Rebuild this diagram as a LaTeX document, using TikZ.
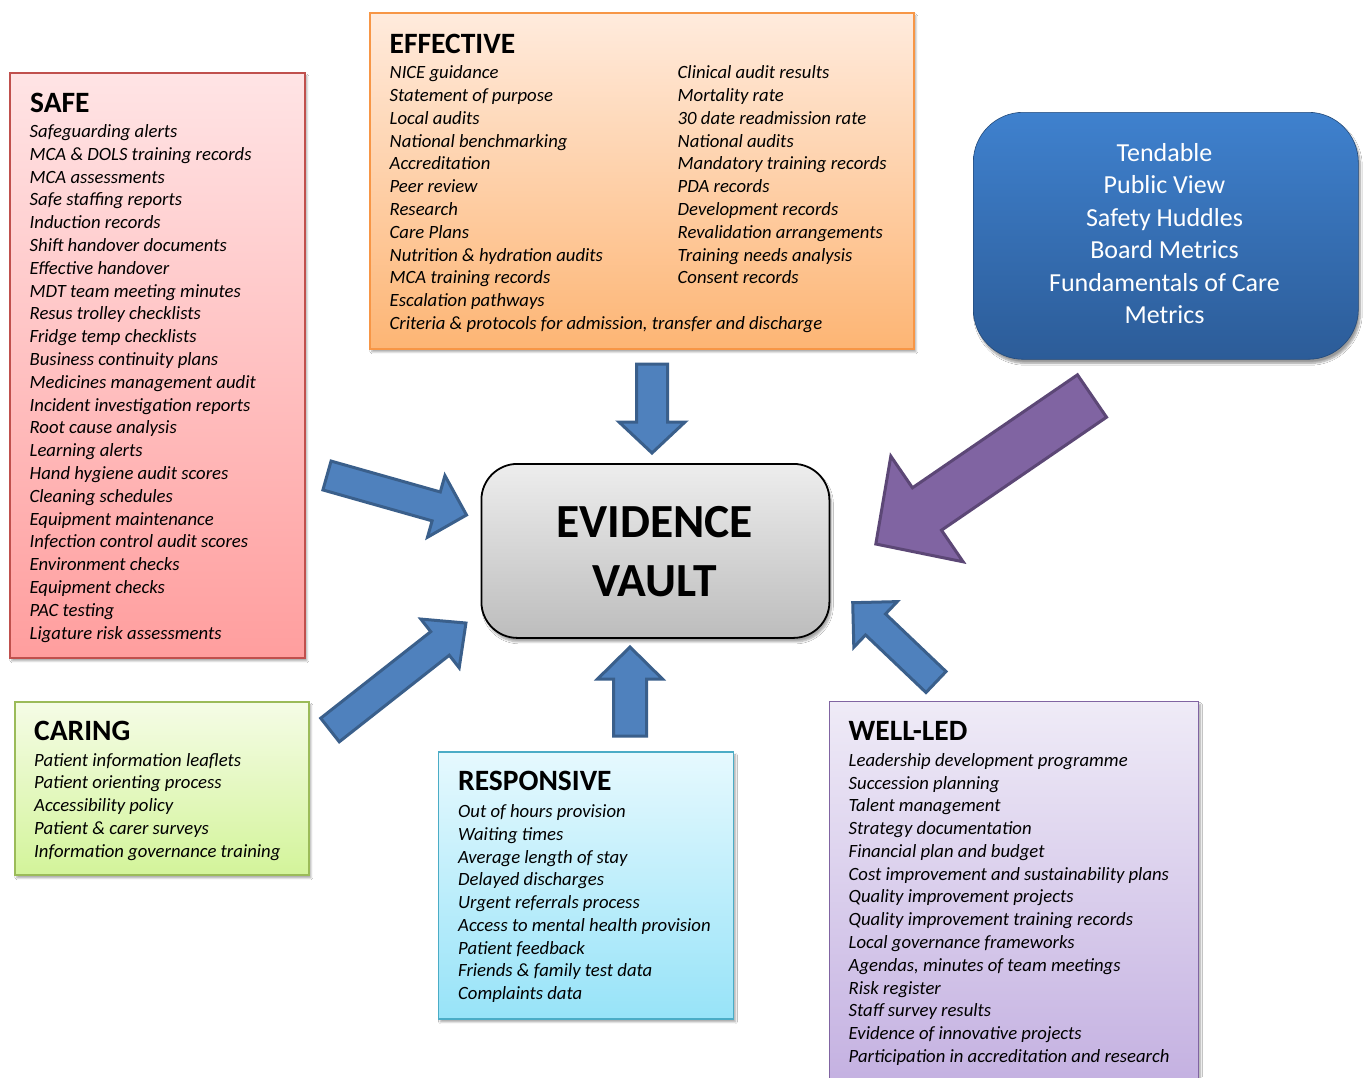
\documentclass[tikz,border=0pt]{standalone}
\usepackage{fontspec}
\setmainfont{Carlito}
\usetikzlibrary{shadows.blur}
\definecolor{safeTop}{HTML}{FFE4E5}
\definecolor{safeBot}{HTML}{FF9E9E}
\definecolor{safeLine}{HTML}{C0504D}
\definecolor{effTop}{HTML}{FFEBDD}
\definecolor{effBot}{HTML}{FDB574}
\definecolor{effLine}{HTML}{F79646}
\definecolor{carTop}{HTML}{F5FCE6}
\definecolor{carBot}{HTML}{D3F49A}
\definecolor{carLine}{HTML}{9BBB59}
\definecolor{resTop}{HTML}{E6F9FE}
\definecolor{resBot}{HTML}{97E3F8}
\definecolor{resLine}{HTML}{4BACC6}
\definecolor{welTop}{HTML}{EFEBF7}
\definecolor{welBot}{HTML}{C2AEE0}
\definecolor{welLine}{HTML}{8064A2}
\definecolor{bluTop}{HTML}{3F81CE}
\definecolor{bluBot}{HTML}{2C5C98}
\definecolor{arrFill}{HTML}{4F81BD}
\definecolor{arrLine}{HTML}{3A5F8B}
\definecolor{purFill}{HTML}{8064A2}
\definecolor{purLine}{HTML}{5C4776}
\tikzset{
  panel/.style={anchor=north west, inner sep=0pt, line width=1.8pt,
    blur shadow={shadow xshift=2pt, shadow yshift=-3pt, shadow blur steps=6, shadow opacity=35}},
  item/.style={anchor=base west, inner sep=0pt, font=\fontsize{18.7}{22.8}\selectfont\itshape},
  ttl/.style={anchor=base west, inner sep=0pt, font=\fontsize{29.5}{35}\selectfont\bfseries},
  blockblue/.style={fill=arrFill, draw=arrLine, line width=3pt, line join=miter},
  blockpurple/.style={fill=purFill, draw=purLine, line width=3pt, line join=miter},
}
\newcommand\blockarr[8]{%
  \begin{scope}[shift={(#2,#3)}, rotate=#4]
    \draw[#1] (0,-#6) -- ({#5-#8},-#6) -- ({#5-#8},-#7) -- (#5,0) -- ({#5-#8},#7) -- ({#5-#8},#6) -- (0,#6) -- cycle;
  \end{scope}}
\begin{document}
\begin{tikzpicture}[x=1pt, y=-1pt]
\clip (0,0) rectangle (1363,1077);
\fill[white] (0,0) rectangle (1363,1077);

% panels
\node[panel, draw=safeLine, top color=safeTop, bottom color=safeBot,
  minimum width=295pt, minimum height=585pt] (safe) at (9,72) {};
\node[panel, draw=effLine, top color=effTop, bottom color=effBot,
  minimum width=544pt, minimum height=336pt] (effective) at (369,12) {};
\node[panel, draw=carLine, top color=carTop, bottom color=carBot,
  minimum width=294pt, minimum height=173pt] (caring) at (14,701) {};
\node[panel, draw=resLine, top color=resTop, bottom color=resBot,
  minimum width=295pt, minimum height=267pt] (responsive) at (437.5,751) {};
\node[panel, draw=welLine, top color=welTop, bottom color=welBot,
  minimum width=369pt, minimum height=400pt] (welled) at (828.5,700.5) {};

% blue box
\node[anchor=north west, inner sep=0pt, rounded corners=50pt, top color=bluTop, bottom color=bluBot,
  draw=bluBot!80!black, line width=0.6pt, minimum width=385pt, minimum height=247pt,
  blur shadow={shadow xshift=2pt, shadow yshift=-4pt, shadow blur steps=8, shadow opacity=40}]
  (tools) at (973,112) {};
\foreach \t [count=\i] in {Tendable, Public View, Safety Huddles, Board Metrics, Fundamentals of Care, Metrics}
  \node[anchor=base, inner sep=0pt, text=white, font=\fontsize{26}{31}\selectfont]
    (tool-\i) at (1164.5, {161+(\i-1)*32.5}) {\t};

% evidence vault
\node[anchor=north west, inner sep=0pt, rounded corners=36pt, top color=black!7, bottom color=black!26,
  draw=black, line width=1.8pt, minimum width=348pt, minimum height=174pt,
  blur shadow={shadow xshift=2pt, shadow yshift=-4pt, shadow blur steps=6, shadow opacity=35}]
  (vault) at (480.5,463) {};
\node[anchor=base, inner sep=0pt, font=\fontsize{47.5}{56}\selectfont\bfseries] (vault-1) at (654.5,537) {EVIDENCE};
\node[anchor=base, inner sep=0pt, font=\fontsize{47.5}{56}\selectfont\bfseries] (vault-2) at (654.5,596) {VAULT};

% SAFE
\node[ttl] (safe-t) at (30,112.7) {SAFE};
\foreach \t [count=\i] in {Safeguarding alerts, MCA \& DOLS training records, MCA assessments,
  Safe staffing reports, Induction records, Shift handover documents, Effective handover,
  MDT team meeting minutes, Resus trolley checklists, Fridge temp checklists,
  Business continuity plans, Medicines management audit, Incident investigation reports,
  Root cause analysis, Learning alerts, Hand hygiene audit scores, Cleaning schedules,
  Equipment maintenance, Infection control audit scores, Environment checks,
  Equipment checks, PAC testing, Ligature risk assessments}
  \node[item] (safe-\i) at (29.5, {137.5+(\i-1)*22.8}) {\t};

% EFFECTIVE
\node[ttl] (eff-t) at (389.5,53.3) {EFFECTIVE};
\foreach \t [count=\i] in {NICE guidance, Statement of purpose, Local audits, National benchmarking,
  Accreditation, Peer review, Research, Care Plans, Nutrition \& hydration audits,
  MCA training records, Escalation pathways, {Criteria \& protocols for admission, transfer and discharge}}
  \node[item] (effa-\i) at (389.5, {78.6+(\i-1)*22.8}) {\t};
\foreach \t [count=\i] in {Clinical audit results, Mortality rate, 30 date readmission rate,
  National audits, Mandatory training records, PDA records, Development records,
  Revalidation arrangements, Training needs analysis, Consent records}
  \node[item] (effb-\i) at (677.5, {78.6+(\i-1)*22.8}) {\t};

% CARING
\node[ttl] (car-t) at (34,740) {CARING};
\foreach \t [count=\i] in {Patient information leaflets, Patient orienting process, Accessibility policy,
  Patient \& carer surveys, Information governance training}
  \node[item] (car-\i) at (34, {766+(\i-1)*22.9}) {\t};

% RESPONSIVE
\node[ttl] (res-t) at (458,790.7) {RESPONSIVE};
\foreach \t [count=\i] in {Out of hours provision, Waiting times, Average length of stay,
  Delayed discharges, Urgent referrals process, Access to mental health provision,
  Patient feedback, Friends \& family test data, Complaints data}
  \node[item] (res-\i) at (458, {817.6+(\i-1)*22.75}) {\t};

% WELL-LED
\node[ttl] (wel-t) at (848.5,740.7) {WELL-LED};
\foreach \t [count=\i] in {Leadership development programme, Succession planning, Talent management,
  Strategy documentation, Financial plan and budget, Cost improvement and sustainability plans,
  Quality improvement projects, Quality improvement training records, Local governance frameworks,
  {Agendas, minutes of team meetings}, Risk register, Staff survey results,
  Evidence of innovative projects, Participation in accreditation and research}
  \node[item] (wel-\i) at (848.5, {766.3+(\i-1)*22.77}) {\t};

% block arrows: style, tail x, tail y, angle, length, shaft half, head half, head length
\blockarr{blockblue}{652}{364}{-90}{89}{15.5}{33}{31}
\blockarr{blockblue}{630}{736}{90}{89}{16.5}{32.5}{32}
\blockarr{blockblue}{327}{475.5}{-15.8}{145}{15}{32}{31.5}
\blockarr{blockblue}{330}{730}{38.2}{173}{15}{31}{33}
\blockarr{blockblue}{936}{682}{136.4}{115}{14.5}{31.5}{31.5}
\blockarr{blockpurple}{1092}{396}{-145.6}{262}{25.7}{64}{62}
\end{tikzpicture}
\end{document}
